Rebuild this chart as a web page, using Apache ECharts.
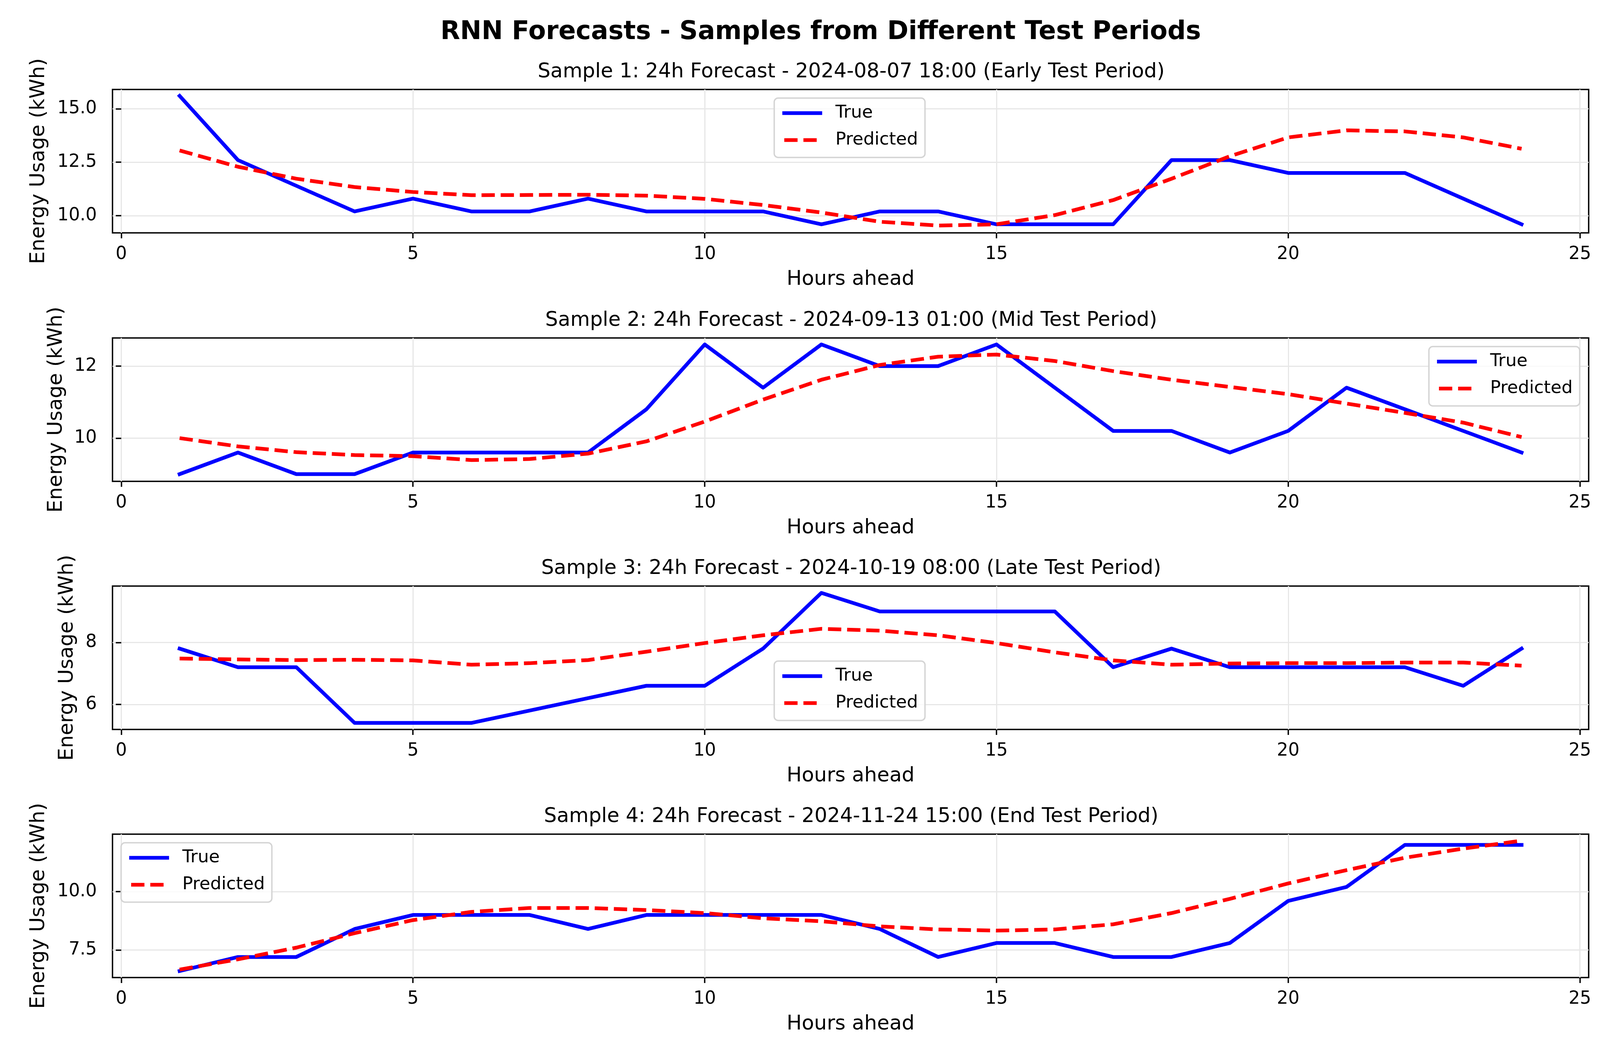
<!DOCTYPE html>
<html>
<head>
<meta charset="utf-8">
<script src="https://cdn.jsdelivr.net/npm/echarts@6/dist/echarts.min.js"></script>
<style>
html,body{margin:0;padding:0;background:#fff;}
#chart{width:4124px;height:2690px;}
</style>
</head>
<body>
<div id="chart"></div>
<script>
const hours = [1,2,3,4,5,6,7,8,9,10,11,12,13,14,15,16,17,18,19,20,21,22,23,24];
const xTicks = [0,5,10,15,20,25];

const mainTitle = 'RNN Forecasts - Samples from Different Test Periods';
const panelTitles = [
  'Sample 1: 24h Forecast - 2024-08-07 18:00 (Early Test Period)',
  'Sample 2: 24h Forecast - 2024-09-13 01:00 (Mid Test Period)',
  'Sample 3: 24h Forecast - 2024-10-19 08:00 (Late Test Period)',
  'Sample 4: 24h Forecast - 2024-11-24 15:00 (End Test Period)'
];

const true1 = [15.6,12.6,11.4,10.2,10.8,10.2,10.2,10.8,10.2,10.2,10.2,9.6,10.2,10.2,9.6,9.6,9.6,12.6,12.6,12.0,12.0,12.0,10.8,9.6];
const pred1 = [13.05,12.29,11.73,11.34,11.11,10.96,10.97,10.98,10.94,10.79,10.5,10.15,9.72,9.54,9.6,10.03,10.73,11.73,12.78,13.66,13.99,13.94,13.66,13.13];

const true2 = [9.0,9.6,9.0,9.0,9.6,9.6,9.6,9.6,10.8,12.6,11.4,12.6,12.0,12.0,12.6,11.4,10.2,10.2,9.6,10.2,11.4,10.8,10.2,9.6];
const pred2 = [10.0,9.77,9.61,9.53,9.5,9.39,9.42,9.57,9.91,10.46,11.07,11.62,12.03,12.26,12.32,12.14,11.86,11.62,11.42,11.22,10.96,10.7,10.43,10.03];

const true3 = [7.8,7.2,7.2,5.4,5.4,5.4,5.8,6.2,6.6,6.6,7.8,9.6,9.0,9.0,9.0,9.0,7.2,7.8,7.2,7.2,7.2,7.2,6.6,7.8];
const pred3 = [7.48,7.45,7.43,7.44,7.42,7.28,7.33,7.43,7.70,7.98,8.23,8.44,8.38,8.23,7.98,7.68,7.42,7.28,7.32,7.33,7.33,7.35,7.35,7.25];

const true4 = [6.6,7.2,7.2,8.4,9.0,9.0,9.0,8.4,9.0,9.0,9.0,9.0,8.4,7.2,7.8,7.8,7.2,7.2,7.8,9.6,10.2,12.0,12.0,12.0];
const pred4 = [6.66,7.1,7.6,8.22,8.78,9.13,9.3,9.3,9.21,9.08,8.86,8.73,8.51,8.38,8.33,8.38,8.6,9.08,9.69,10.35,10.92,11.45,11.84,12.18];

const yTicks1 = [10, 12.5, 15];
const yTicks2 = [10, 12];
const yTicks3 = [6, 8];
const yTicks4 = [7.5, 10];

const trueSets = [true1, true2, true3, true4];
const predSets = [pred1, pred2, pred3, pred4];
const yTickSets = [yTicks1, yTicks2, yTicks3, yTicks4];
const yRanges = [[9.2, 15.9], [8.8, 12.78], [5.19, 9.82], [6.32, 12.46]];
const yDecimals = [1, 0, 0, 1];

const FONT = 'DejaVu Sans';
const panelTops = [229, 865, 1500, 2135];
const panelH = 367;
const gridLeft = 288, gridRight = 57;
const yNameGaps = [162, 117, 89, 162];
const legendPos = [
  {left: 1982, top: 251},
  {left: 3658, top: 887},
  {left: 1982, top: 1692},
  {left: 310, top: 2157}
];

const BLUE = '#0000ff', RED = '#ff0000';
const LW = 9.5, DASH = [34, 15];

const chart = echarts.init(document.getElementById('chart'), null, {renderer: 'canvas'});

const grids = [], xAxes = [], yAxes = [], series = [], titles = [], legends = [];
titles.push({
  text: mainTitle, left: 2096, top: 45, textAlign: 'center',
  textStyle: {fontFamily: FONT, fontSize: 65.5, fontWeight: 'bold', color: '#000'}
});
for (let i = 0; i < 4; i++) {
  grids.push({left: gridLeft, right: gridRight, top: panelTops[i], height: panelH,
    show: true, borderColor: '#000', borderWidth: 3.5, backgroundColor: '#fff'});
  titles.push({
    text: panelTitles[i], left: 2174, top: panelTops[i] - 75, textAlign: 'center',
    textStyle: {fontFamily: FONT, fontSize: 51.5, fontWeight: 'normal', color: '#000'}
  });
  xAxes.push({
    type: 'value', gridIndex: i, min: -0.15, max: 25.15,
    name: 'Hours ahead', nameLocation: 'middle', nameGap: 94,
    nameTextStyle: {fontFamily: FONT, fontSize: 51.5, color: '#000'},
    axisLine: {show: false},
    axisTick: {show: true, customValues: xTicks, length: 14, lineStyle: {color: '#000', width: 3.5}},
    axisLabel: {customValues: xTicks, fontFamily: FONT, fontSize: 45.5, color: '#000', margin: 32,
      formatter: v => String(Math.round(v))},
    splitLine: {show: true, lineStyle: {color: '#e7e7e7', width: 3}}
  });
  const dec = yDecimals[i];
  yAxes.push({
    type: 'value', gridIndex: i, min: yRanges[i][0], max: yRanges[i][1],
    name: 'Energy Usage (kWh)', nameLocation: 'middle', nameGap: yNameGaps[i], nameRotate: 90,
    nameTextStyle: {fontFamily: FONT, fontSize: 51.5, color: '#000'},
    axisLine: {show: false},
    axisTick: {show: true, customValues: yTickSets[i], length: 14, lineStyle: {color: '#000', width: 3.5}},
    axisLabel: {customValues: yTickSets[i], fontFamily: FONT, fontSize: 45.5, color: '#000', margin: 40,
      formatter: v => v.toFixed(dec)},
    splitLine: {show: true, lineStyle: {color: '#e7e7e7', width: 3}}
  });
  series.push({
    name: 'True', type: 'line', xAxisIndex: i, yAxisIndex: i,
    data: hours.map((h, k) => [h, trueSets[i][k]]),
    showSymbol: false, symbol: 'none', z: 3,
    lineStyle: {color: BLUE, width: LW, join: 'round', cap: 'square'},
    itemStyle: {color: BLUE}
  });
  series.push({
    name: 'Predicted', type: 'line', xAxisIndex: i, yAxisIndex: i,
    data: hours.map((h, k) => [h, predSets[i][k]]),
    showSymbol: false, symbol: 'none', z: 4,
    lineStyle: {color: RED, width: LW, type: DASH, cap: 'butt', join: 'round'},
    itemStyle: {color: RED}
  });
  legends.push({
    data: [
      {name: 'True', itemStyle: {opacity: 0},
        lineStyle: {color: BLUE, width: LW, type: 'solid', cap: 'butt'}},
      {name: 'Predicted', itemStyle: {opacity: 0},
        lineStyle: {color: RED, width: LW, type: DASH, dashOffset: -5, cap: 'butt'}}
    ],
    orient: 'vertical',
    left: legendPos[i].left, top: legendPos[i].top,
    itemWidth: 102, itemHeight: 20, itemGap: 24,
    padding: [16, 18, 22, 16],
    backgroundColor: 'rgba(255,255,255,0.8)', borderColor: '#d4d4d4', borderWidth: 3.5, borderRadius: 10,
    selectedMode: false,
    textStyle: {fontFamily: FONT, fontSize: 45, color: '#000', padding: [0, 0, 0, 29]}
  });
}

chart.setOption({
  animation: false,
  backgroundColor: '#fff',
  title: titles,
  grid: grids,
  xAxis: xAxes,
  yAxis: yAxes,
  legend: legends,
  series: series
});
</script>
</body>
</html>
